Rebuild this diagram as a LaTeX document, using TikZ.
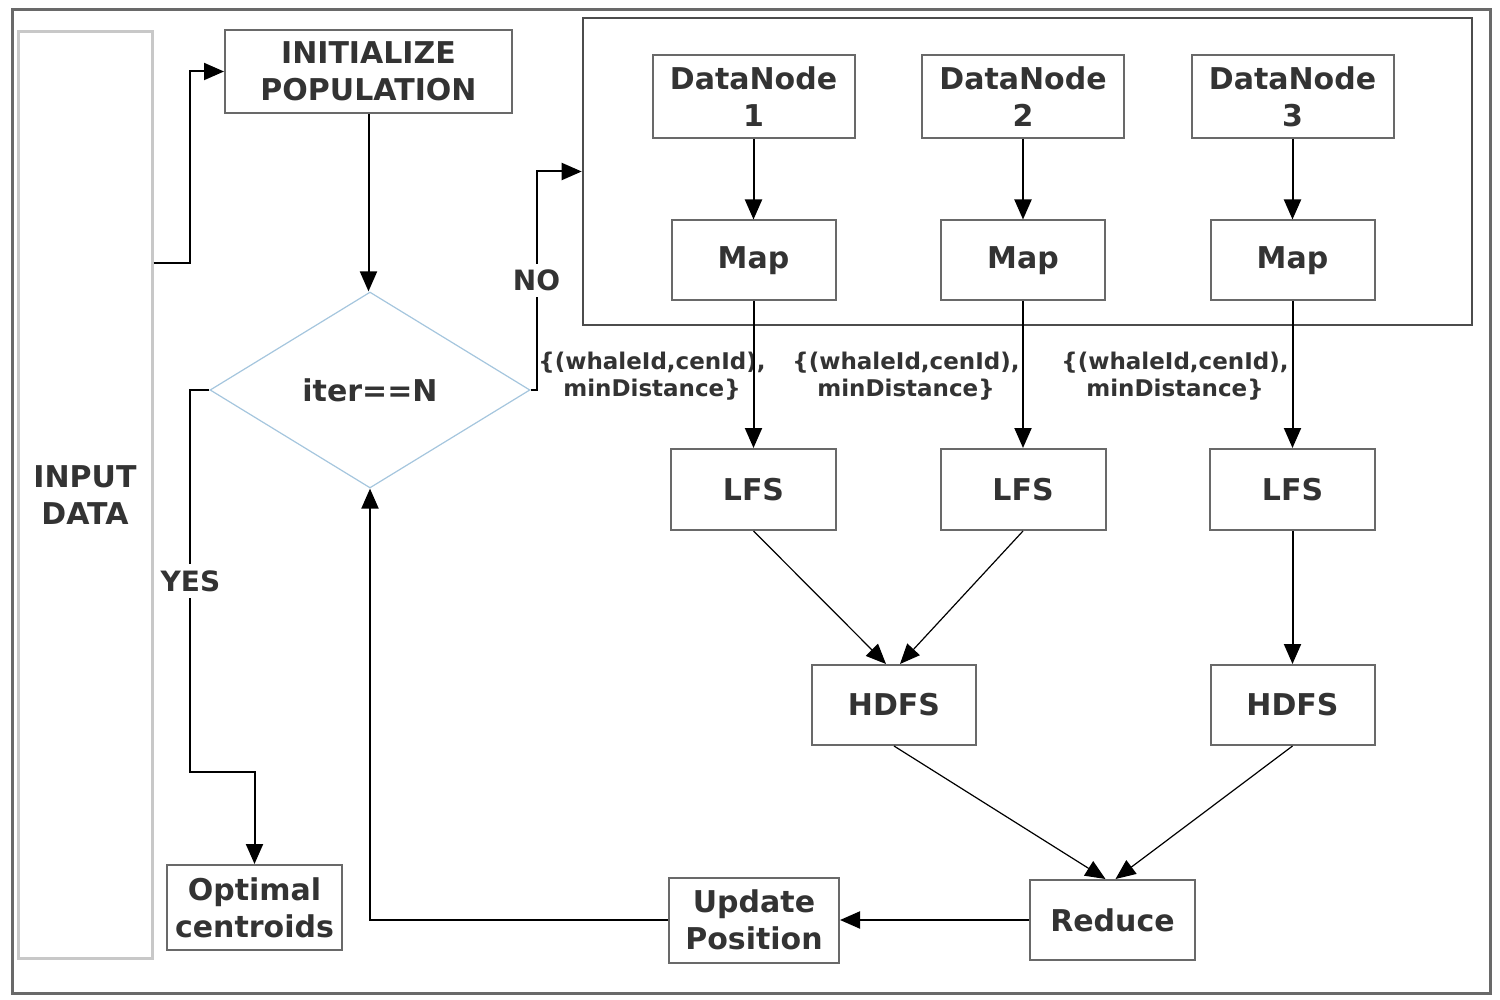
\documentclass[tikz,border=0pt]{standalone}
\usepackage{fontspec}
\setmainfont{DejaVu Sans}
\usetikzlibrary{arrows.meta,positioning,shapes.geometric,calc}
\definecolor{txtgray}{RGB}{51,51,51}
\definecolor{boxgray}{RGB}{105,105,105}
\definecolor{lightedge}{RGB}{200,200,200}
\definecolor{diaedge}{RGB}{165,198,222}

\begin{document}
\begin{tikzpicture}[x=0.5pt, y=-0.5pt,
  blk/.style={draw=boxgray, line width=1pt, fill=white, align=center, inner sep=0pt, font=\fontsize{15}{18.5}\selectfont\bfseries, text=txtgray},
  lbl/.style={align=center, inner sep=1pt, font=\fontsize{11.5}{13.5}\selectfont\bfseries, text=txtgray},
  yn/.style={fill=white, inner sep=3pt, font=\fontsize{14}{16}\selectfont\bfseries, text=txtgray},
  arr/.style={-{Triangle[length=10pt,width=8.5pt]}, line width=1pt},
  thinarr/.style={-{Triangle[length=10pt,width=8.5pt]}, line width=0.6pt}
]
  \useasboundingbox (0,0) rectangle (1500,1000);
  %% Outer frame
  \draw[boxgray, line width=1.5pt] (12,10) rectangle (1490,993);

  %% Left column
  \node[blk, draw=lightedge, line width=1.5pt, minimum width=67pt, minimum height=463pt] (input) at (85,495) {INPUT\\DATA};
  \node[blk, minimum width=143.5pt, minimum height=41.5pt] (init) at (368.5,71.5) {INITIALIZE\\POPULATION};
  \node[blk, shape=diamond, draw=diaedge, line width=0.6pt, minimum width=160pt, minimum height=98pt] (dec) at (370,390) {iter==N};
  \node[blk, minimum width=87.5pt, minimum height=42.5pt] (optimal) at (254.5,907.5) {Optimal\\centroids};

  %% Cluster with data nodes and mappers
  \node[draw=black!70, line width=1.3pt, minimum width=444.5pt, minimum height=153.5pt, inner sep=0pt] (cluster) at (1027.5,171.5) {};
  \node[blk, minimum width=101pt, minimum height=41.5pt] (dn1) at (753.5,96.5) {DataNode\\1};
  \node[blk, minimum width=101pt, minimum height=41.5pt] (dn2) at (1023,96.5) {DataNode\\2};
  \node[blk, minimum width=101pt, minimum height=41.5pt] (dn3) at (1292.5,96.5) {DataNode\\3};
  \node[blk, minimum width=82pt, minimum height=40pt] (map1) at (753.5,260.5) {Map};
  \node[blk, minimum width=82pt, minimum height=40pt] (map2) at (1023,260.5) {Map};
  \node[blk, minimum width=82pt, minimum height=40pt] (map3) at (1292.5,260.5) {Map};

  %% Key / value labels
  \node[lbl] (kv1) at (652,376) {\{(whaleId,cenId),\\minDistance\}};
  \node[lbl] (kv2) at (906,376) {\{(whaleId,cenId),\\minDistance\}};
  \node[lbl] (kv3) at (1175,376) {\{(whaleId,cenId),\\minDistance\}};

  %% Local file systems, HDFS, reducer
  \node[blk, minimum width=82.5pt, minimum height=40.5pt] (lfs1) at (753.5,489.5) {LFS};
  \node[blk, minimum width=82.5pt, minimum height=40.5pt] (lfs2) at (1023,489.5) {LFS};
  \node[blk, minimum width=82.5pt, minimum height=40.5pt] (lfs3) at (1292.5,489.5) {LFS};
  \node[blk, minimum width=82pt, minimum height=40pt] (hdfs1) at (894,705) {HDFS};
  \node[blk, minimum width=82pt, minimum height=40pt] (hdfs2) at (1292.5,705) {HDFS};
  \node[blk, minimum width=82.5pt, minimum height=40pt] (reduce) at (1112.5,920) {Reduce};
  \node[blk, minimum width=85pt, minimum height=42.5pt] (update) at (754,920) {Update\\Position};

  %% Connectors
  \draw[arr] ($(input.north east)!0.25!(input.south east)$) -- ++(36,0) |- (init.west);
  \draw[arr] (init.south) -- (init.south |- dec.north);
  \draw[arr] (dec.east) -- ++(6,0) |- node[yn, pos=0.25]{NO} (cluster.west);
  \draw[arr] (dec.west) -- ++(-19,0) -- node[yn]{YES} ++(0,382) -| (optimal.north);
  \foreach \i in {1,2,3} {
    \draw[arr] (dn\i) -- (map\i);
    \draw[arr] (map\i) -- (lfs\i);
  }
  \draw[thinarr] (lfs1.south) -- ([xshift=-4pt]hdfs1.north);
  \draw[thinarr] (lfs2.south) -- ([xshift=3pt]hdfs1.north);
  \draw[arr] (lfs3) -- (hdfs2);
  \draw[thinarr] (hdfs1.south) -- ([xshift=-3.5pt]reduce.north);
  \draw[thinarr] (hdfs2.south) -- ([xshift=1.5pt]reduce.north);
  \draw[arr] (reduce) -- (update);
  \draw[arr] (update.west) -| (dec.south);
\end{tikzpicture}
\end{document}
